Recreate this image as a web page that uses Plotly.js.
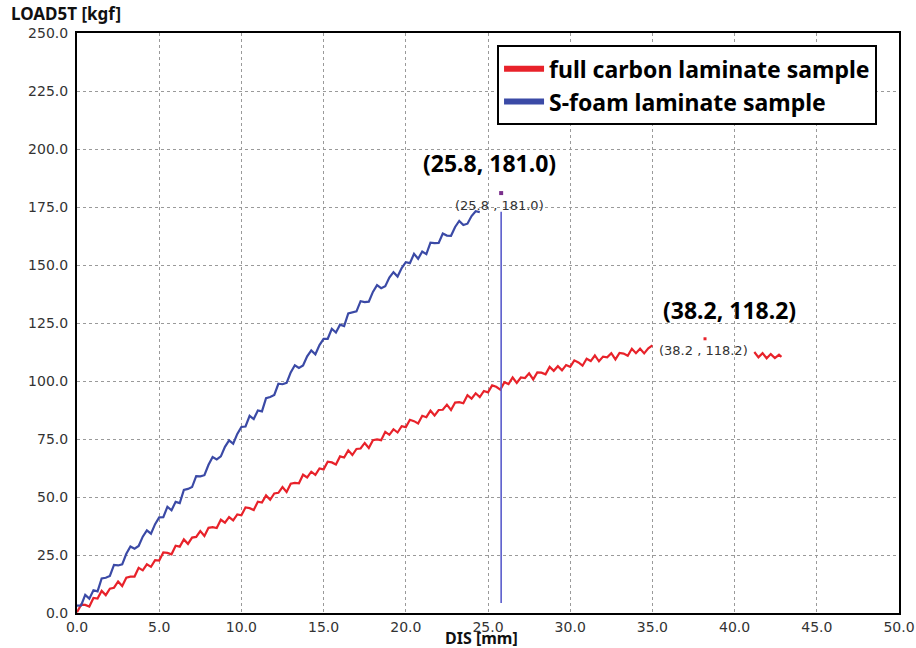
<!DOCTYPE html>
<html>
<head>
<meta charset="utf-8">
<script src="https://cdn.plot.ly/plotly-3.0.1.min.js"></script>
<style>html,body{margin:0;padding:0;background:#fff;}#chart{width:916px;height:648px;}</style>
</head>
<body>
<div id="chart"></div>
<script>
// S-foam laminate sample (blue)
const foamDis = [0,0.25,0.5,0.75,1,1.25,1.5,1.75,2,2.25,2.5,2.75,3,3.25,3.5,3.75,4,4.25,4.5,4.75,5,5.25,5.5,5.75,6,6.25,6.5,6.75,7,7.25,7.5,7.75,8,8.25,8.5,8.75,9,9.25,9.5,9.75,10,10.25,10.5,10.75,11,11.25,11.5,11.75,12,12.25,12.5,12.75,13,13.25,13.5,13.75,14,14.25,14.5,14.75,15,15.25,15.5,15.75,16,16.25,16.5,16.75,17,17.25,17.5,17.75,18,18.25,18.5,18.75,19,19.25,19.5,19.75,20,20.25,20.5,20.75,21,21.25,21.5,21.75,22,22.25,22.5,22.75,23,23.25,23.5,23.75,24,24.25,24.5];
const foamLoad = [3.2,3.3,7.8,6.2,9.8,9.3,14.9,15.2,16.0,20.7,20.5,21.0,25.5,28.7,27.7,28.9,32.9,35.6,34.2,38.3,41.2,41.3,45.8,44.3,47.9,47.4,53.1,53.5,54.3,59.0,58.9,59.4,63.9,67.2,66.2,67.5,71.6,74.4,73.0,77.2,80.2,80.4,85.0,83.6,87.3,86.9,92.6,93.1,94.0,98.8,98.6,99.2,103.7,106.8,105.6,106.7,110.6,113.2,111.5,115.5,118.2,118.2,122.5,120.9,124.3,123.7,129.1,129.4,130.0,134.4,134.0,134.2,138.4,141.3,140.0,140.9,144.6,146.9,145.0,148.7,151.2,150.8,154.8,152.7,155.8,154.7,159.6,159.4,159.5,163.6,162.7,162.6,166.4,169.0,167.2,167.8,171.1,173.2,172.8];

// full carbon laminate sample (red)
const carbonDis = [0,0.25,0.5,0.75,1,1.25,1.5,1.75,2,2.25,2.5,2.75,3,3.25,3.5,3.75,4,4.25,4.5,4.75,5,5.25,5.5,5.75,6,6.25,6.5,6.75,7,7.25,7.5,7.75,8,8.25,8.5,8.75,9,9.25,9.5,9.75,10,10.25,10.5,10.75,11,11.25,11.5,11.75,12,12.25,12.5,12.75,13,13.25,13.5,13.75,14,14.25,14.5,14.75,15,15.25,15.5,15.75,16,16.25,16.5,16.75,17,17.25,17.5,17.75,18,18.25,18.5,18.75,19,19.25,19.5,19.75,20,20.25,20.5,20.75,21,21.25,21.5,21.75,22,22.25,22.5,22.75,23,23.25,23.5,23.75,24,24.25,24.5,24.75,25,25.25,25.5,25.75,26,26.25,26.5,26.75,27,27.25,27.5,27.75,28,28.25,28.5,28.75,29,29.25,29.5,29.75,30,30.25,30.5,30.75,31,31.25,31.5,31.75,32,32.25,32.5,32.75,33,33.25,33.5,33.75,34,34.25,34.5,34.75,35,38,41.2,41.45,41.7,41.95,42.2,42.45,42.7,42.85];
const carbonLoad = [0.3,3.6,3.5,2.8,6.5,6.2,9.5,7.7,10.5,10.9,13.6,11.6,15.2,15.7,15.7,19.5,18.4,21.0,19.9,22.8,22.6,26.1,25.9,25.3,29.0,28.6,31.7,29.8,32.5,32.8,35.3,33.2,36.7,37.0,36.6,40.2,38.9,41.3,39.9,42.5,42.1,45.5,45.2,44.4,48.0,47.6,50.7,48.8,51.5,51.8,54.3,52.2,55.7,56.1,55.9,59.6,58.4,60.9,59.5,62.3,61.9,65.2,64.9,64.0,67.5,67.0,70.1,68.1,70.7,70.9,73.3,71.1,74.5,74.8,74.5,78.1,76.8,79.2,77.8,80.5,80.1,83.3,82.7,81.7,85.0,84.4,87.2,85.1,87.5,87.6,89.8,87.5,90.7,90.9,90.4,93.9,92.4,94.7,93.1,95.7,95.1,98.1,97.5,96.3,99.5,98.7,101.5,99.2,101.5,101.3,103.3,100.7,103.7,103.6,102.9,106.1,104.4,106.4,104.6,106.9,106.1,108.9,108.0,106.6,109.6,108.6,111.0,108.5,110.5,110.2,112.0,109.3,112.1,111.8,110.9,113.9,112.0,113.9,111.9,114.1,115.4,null,112.5,110.2,112.0,109.8,111.6,109.9,111.3,110.4];

// failure line of the S-foam sample
const dropDis = [25.8, 25.8];
const dropLoad = [173, 4.3];

// peak points
const peakFoam = {x: 25.8, y: 181.0};
const peakCarbon = {x: 38.2, y: 118.2};

const seriesNames = ['full carbon laminate sample', 'S-foam laminate sample'];
const xTicks = [0,5,10,15,20,25,30,35,40,45,50];
const yTicks = [0,25,50,75,100,125,150,175,200,225,250];

const RED = '#e8222a';
const BLUE = '#3b4aa6';

const traces = [
  {x: carbonDis, y: carbonLoad, mode: 'lines', line: {color: RED, width: 2.2}, showlegend: false, connectgaps: false},
  {x: foamDis, y: foamLoad, mode: 'lines', line: {color: BLUE, width: 2.2}, showlegend: false},
  {x: dropDis, y: dropLoad, mode: 'lines', line: {color: '#5a5ccc', width: 1.6}, showlegend: false},
  {x: [peakFoam.x], y: [peakFoam.y], mode: 'markers', marker: {symbol: 'square', size: 4, color: '#7a2f8c'}, showlegend: false},
  {x: [peakCarbon.x], y: [peakCarbon.y], mode: 'markers', marker: {symbol: 'square', size: 3, color: RED}, showlegend: false},
  {x: [null], y: [null], mode: 'lines', name: seriesNames[0], line: {color: RED, width: 6}},
  {x: [null], y: [null], mode: 'lines', name: seriesNames[1], line: {color: BLUE, width: 6}}
];

const fmt = v => v.toFixed(1);

const gridStyle = {gridcolor: '#9a9a9a', gridwidth: 1, griddash: '3px,3px'};

const layout = {
  width: 916, height: 648,
  margin: {l: 77, r: 17, t: 33, b: 35},
  paper_bgcolor: '#ffffff', plot_bgcolor: '#ffffff',
  font: {family: 'DejaVu Sans', size: 14, color: '#333333'},
  xaxis: Object.assign({
    range: [0, 50], tickvals: xTicks, ticktext: xTicks.map(fmt),
    showline: true, mirror: true, linecolor: '#000', linewidth: 2,
    zeroline: false, ticks: '', tickfont: {family: 'DejaVu Sans', size: 14, color: '#333'},
    fixedrange: true
  }, gridStyle),
  yaxis: Object.assign({
    range: [0, 250], tickvals: yTicks, ticktext: yTicks.map(fmt),
    showline: true, mirror: true, linecolor: '#000', linewidth: 2,
    zeroline: false, ticks: '', tickfont: {family: 'DejaVu Sans', size: 14, color: '#333'},
    ticklabelstandoff: 4, fixedrange: true
  }, gridStyle),
  legend: {
    x: 0.511, y: 0.979, xanchor: 'left', yanchor: 'top',
    bgcolor: '#ffffff', bordercolor: '#000', borderwidth: 2,
    font: {family: 'Noto Sans', size: 23, color: '#000', weight: 'bold'},
    itemwidth: 40, tracegroupgap: 0
  },
  annotations: [
    {xref: 'paper', yref: 'paper', x: -0.083, y: 1.033, xanchor: 'left', yanchor: 'middle', showarrow: false,
     text: '<b>LOAD5T [kgf]</b>', font: {family: 'Noto Sans', size: 17, color: '#111'}},
    {xref: 'x', yref: 'paper', x: 24.6, y: -0.043, xanchor: 'center', yanchor: 'middle', showarrow: false,
     text: '<b>DIS [mm]</b>', font: {family: 'Noto Sans', size: 16, color: '#111'}},
    {x: 25.7, y: 175.5, xref: 'x', yref: 'y', showarrow: false,
     text: '(' + fmt(peakFoam.x) + ' , ' + fmt(peakFoam.y) + ')', font: {family: 'DejaVu Sans', size: 13, color: '#333'}},
    {x: 38.1, y: 113.2, xref: 'x', yref: 'y', showarrow: false,
     text: '(' + fmt(peakCarbon.x) + ' , ' + fmt(peakCarbon.y) + ')', font: {family: 'DejaVu Sans', size: 13, color: '#333'}},
    {x: 25.1, y: 194, xref: 'x', yref: 'y', showarrow: false,
     text: '<b>(' + fmt(peakFoam.x) + ', ' + fmt(peakFoam.y) + ')</b>', font: {family: 'Noto Sans', size: 23, color: '#000'}},
    {x: 39.7, y: 130.5, xref: 'x', yref: 'y', showarrow: false,
     text: '<b>(' + fmt(peakCarbon.x) + ', ' + fmt(peakCarbon.y) + ')</b>', font: {family: 'Noto Sans', size: 23, color: '#000'}}
  ]
};

Plotly.newPlot('chart', traces, layout, {staticPlot: true, displayModeBar: false});
</script>
</body>
</html>
